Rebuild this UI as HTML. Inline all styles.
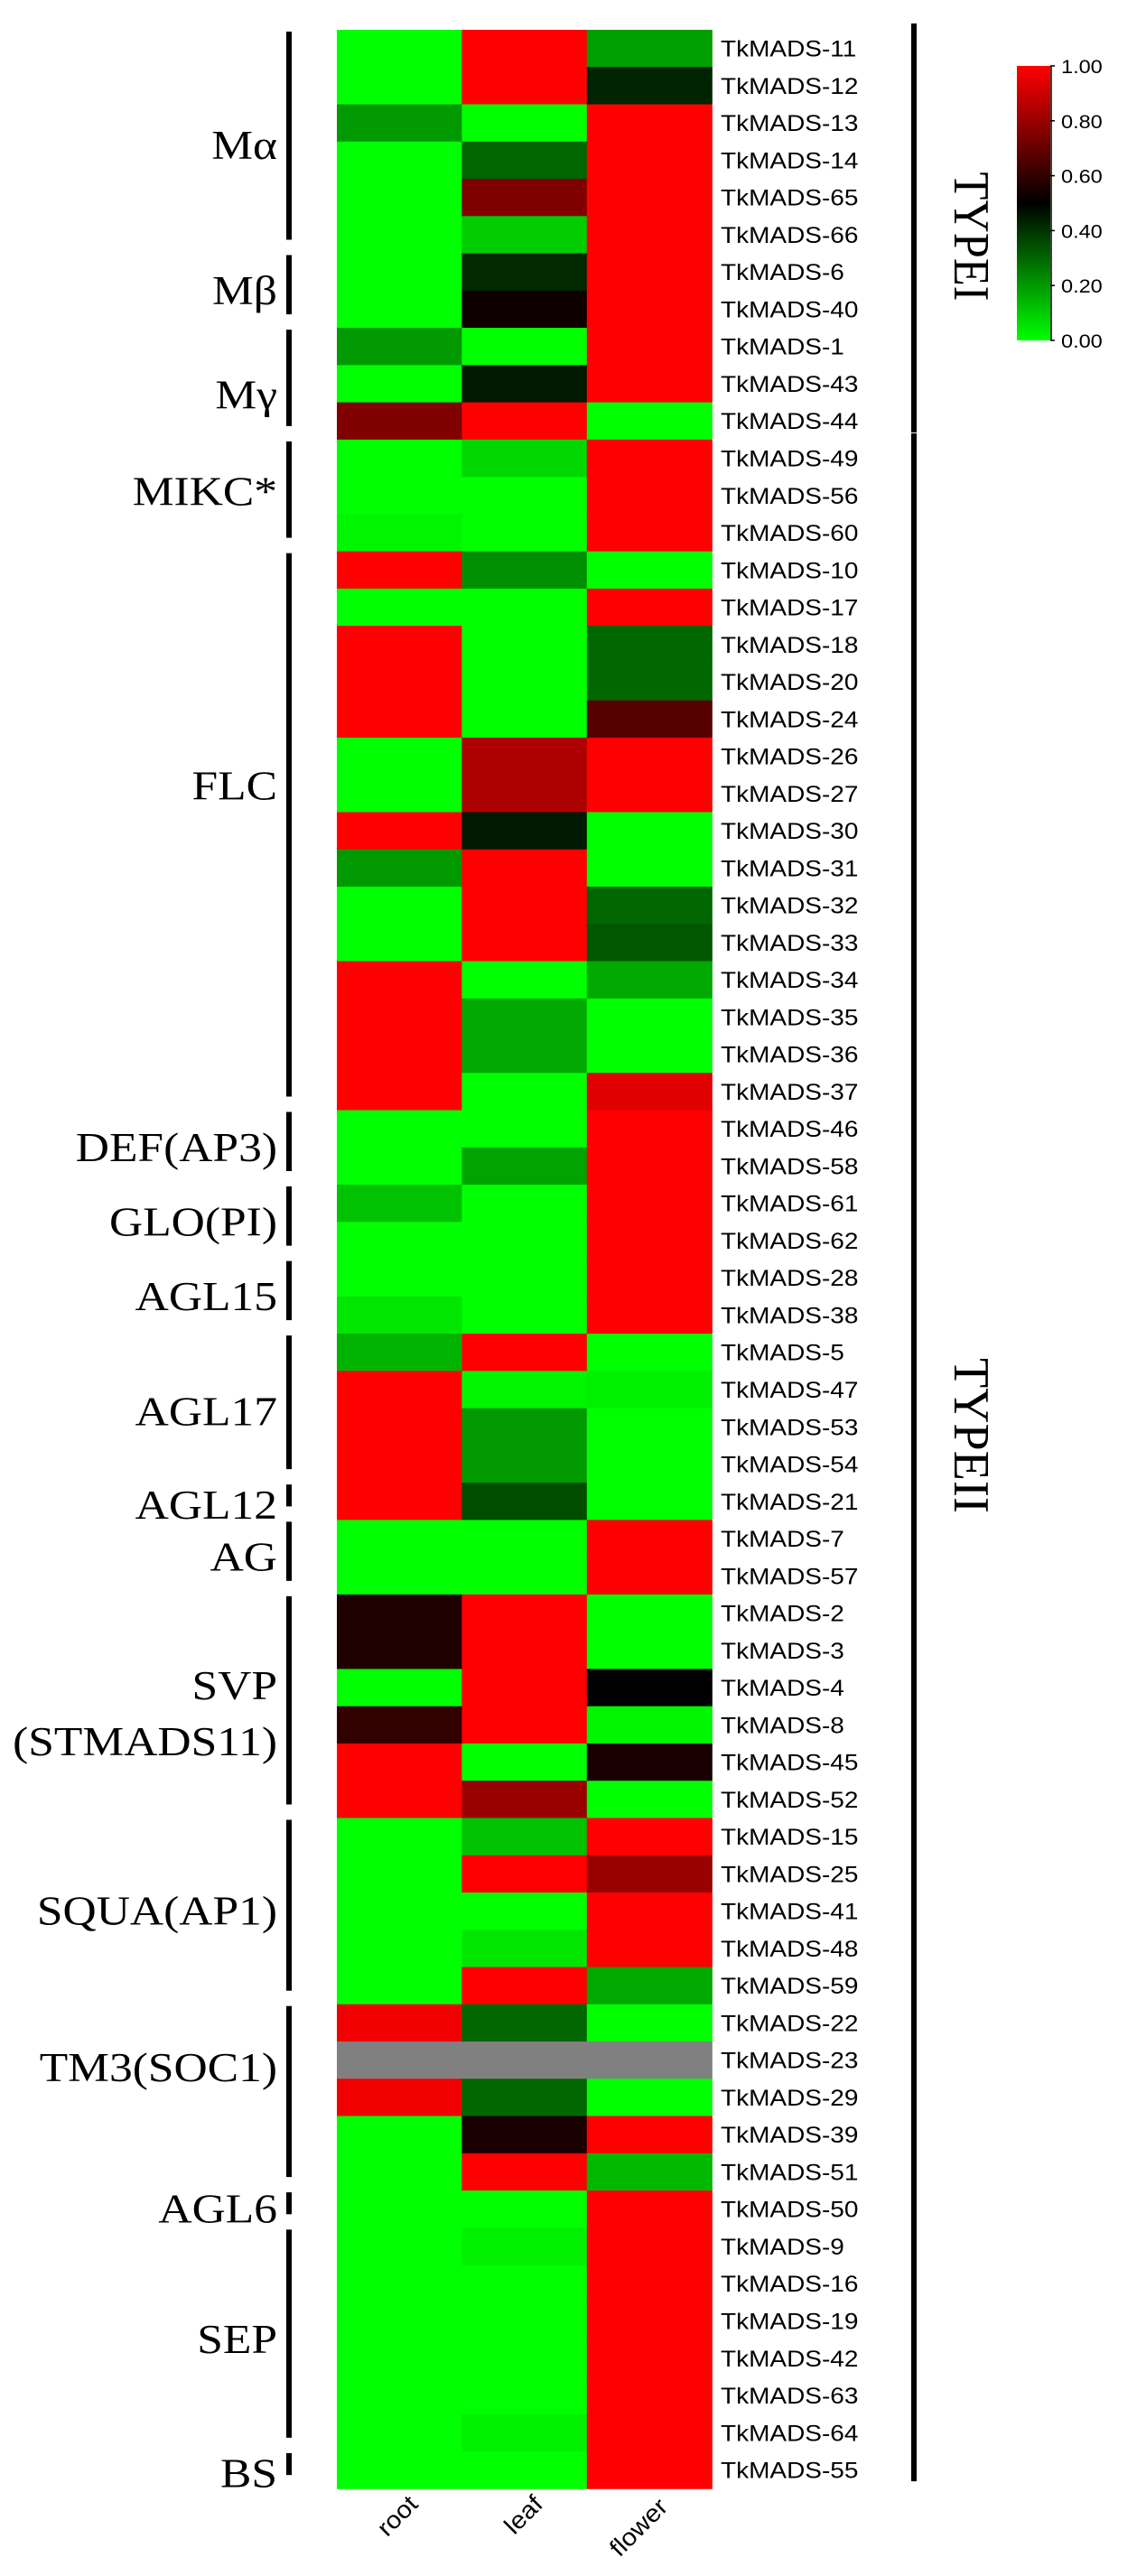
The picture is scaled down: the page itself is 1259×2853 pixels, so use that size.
<!DOCTYPE html>
<html><head><meta charset="utf-8"><style>
html,body{margin:0;padding:0;background:#fff;}
svg{display:block;}
</style></head><body>
<svg id="chart" width="1259" height="2853" viewBox="0 0 1259 2853" xmlns="http://www.w3.org/2000/svg"></svg>
<script>
const genes = ["TkMADS-11","TkMADS-12","TkMADS-13","TkMADS-14","TkMADS-65","TkMADS-66","TkMADS-6","TkMADS-40","TkMADS-1","TkMADS-43","TkMADS-44","TkMADS-49","TkMADS-56","TkMADS-60","TkMADS-10","TkMADS-17","TkMADS-18","TkMADS-20","TkMADS-24","TkMADS-26","TkMADS-27","TkMADS-30","TkMADS-31","TkMADS-32","TkMADS-33","TkMADS-34","TkMADS-35","TkMADS-36","TkMADS-37","TkMADS-46","TkMADS-58","TkMADS-61","TkMADS-62","TkMADS-28","TkMADS-38","TkMADS-5","TkMADS-47","TkMADS-53","TkMADS-54","TkMADS-21","TkMADS-7","TkMADS-57","TkMADS-2","TkMADS-3","TkMADS-4","TkMADS-8","TkMADS-45","TkMADS-52","TkMADS-15","TkMADS-25","TkMADS-41","TkMADS-48","TkMADS-59","TkMADS-22","TkMADS-23","TkMADS-29","TkMADS-39","TkMADS-51","TkMADS-50","TkMADS-9","TkMADS-16","TkMADS-19","TkMADS-42","TkMADS-63","TkMADS-64","TkMADS-55"];
const tissues = ["root","leaf","flower"];
const rootVals = [0,0,0.2,0,0,0,0,0,0.2,0,0.75,0,0,0.02,1,0,1,1,1,0,0,1,0.2,0,0,1,1,1,1,0,0,0.12,0,0,0.05,0.15,1,1,1,1,0,0,0.56,0.56,0,0.6,1,1,0,0,0,0,0,0.97,null,0.97,0,0,0,0,0,0,0,0,0,0];
const leafVals = [1,1,0,0.3,0.75,0.1,0.42,0.53,0,0.45,1,0.08,0,0,0.22,0,0,0,0,0.84,0.84,0.45,1,1,1,0,0.17,0.17,0,0,0.18,0,0,0,0,1,0.02,0.2,0.2,0.35,0,0,1,1,1,1,0,0.8,0.12,1,0,0.05,1,0.3,null,0.3,0.55,1,0,0.03,0,0,0,0,0.03,0];
const flowerVals = [0.19,0.43,1,1,1,1,1,1,1,1,0,1,1,1,0,1,0.3,0.3,0.67,1,1,0,0,0.3,0.33,0.17,0,0,0.94,1,1,1,1,1,1,0,0.03,0,0,0,1,1,0,0,0.5,0.02,0.55,0,1,0.8,1,1,0.17,0,null,0,1,0.14,1,1,1,1,1,1,1,1];
const groupNames = ["Mα","Mβ","Mγ","MIKC*","FLC","DEF(AP3)","GLO(PI)","AGL15","AGL17","AGL12","AG","SVP|(STMADS11)","SQUA(AP1)","TM3(SOC1)","AGL6","SEP","BS"];
const groupStart = [0,6,8,11,14,29,31,33,35,39,40,42,48,53,58,59,65];
const groupEnd =   [5,7,10,13,28,30,32,34,38,39,41,47,52,57,58,64,65];
const groupLabelRow = [2.6,6.5,9.3,11.9,19.8,29.5,31.5,33.5,36.6,39.1,40.5,44.7,50.0,54.2,58,61.5,65.1];
const typeNames = ["TYPEI","TYPEII"];
const typeStart = [0,11];
const typeEnd = [10,65];
const cbTicks = [0,0.2,0.4,0.6,0.8,1.0];
const cbTickLabels = ["0.00","0.20","0.40","0.60","0.80","1.00"];

const NS="http://www.w3.org/2000/svg";
const svg=document.getElementById('chart');
const X0=373, CW=138.4, Y0=33, RH=41.26;
const xPos=i=>X0+i*CW;
const yPos=r=>Y0+r*RH;
function color(v){
  if(v===null) return "#808080";
  if(v<0.5){const g=Math.round(255*(1-2*v));return `rgb(0,${g},0)`;}
  const r=Math.round(255*(2*v-1));return `rgb(${r},0,0)`;
}
function el(tag,attrs,parent){const e=document.createElementNS(NS,tag);for(const k in attrs)e.setAttribute(k,attrs[k]);(parent||svg).appendChild(e);return e;}
const series=[rootVals,leafVals,flowerVals];
const cells=el('g',{});


series.forEach((vals,c)=>{
  vals.forEach((v,r)=>{
    const rc=el('rect',{x:xPos(c),y:yPos(r),width:CW+0.6,height:RH+0.6,fill:color(v)},cells);
    
    
  });
});
genes.forEach((g,r)=>{
  const t=el('text',{x:0,y:0,transform:`translate(798,${yPos(r)+RH/2+9}) scale(1.12,1)`,'font-family':'"Liberation Sans", sans-serif','font-size':25,fill:'#000'});
  t.textContent=g;
  
  
});
tissues.forEach((n,i)=>{
  const ex=xPos(i)+CW/2+22;
  const t=el('text',{x:0,y:0,transform:`translate(${ex},${2775+(i===2?3:0)}) rotate(-45) scale(1.08,1)`,'text-anchor':'end','font-family':'"Liberation Sans", sans-serif','font-size':27,fill:'#000'});
  t.textContent=n;
  
  
});
groupNames.forEach((n,i)=>{
  const y1=yPos(groupStart[i])+2, y2=yPos(groupEnd[i]+1)-15;
  const l=el('line',{x1:320,x2:320,y1:y1,y2:y2,stroke:'#000','stroke-width':6});
  
  
  const cy=yPos(groupLabelRow[i])+RH/2;
  const parts=n.split('|');
  parts.forEach((p,k)=>{
    const yy=cy+15+(k-(parts.length-1)/2)*62;
    const t=el('text',{x:0,y:0,transform:`translate(307,${yy}) scale(1.12,1)`,'text-anchor':'end','font-family':'"Liberation Serif", serif','font-size':46,fill:'#000'});
    t.textContent=p;
    
    
  });
});
typeNames.forEach((n,i)=>{
  const y1=yPos(typeStart[i])-7, y2=yPos(typeEnd[i]+1)-8;
  const l=el('line',{x1:1012,x2:1012,y1:y1,y2:y2,stroke:'#000','stroke-width':6});
  
  
  const cy=(i===0)?262:1590;
  const len=(i===0)?143:172;
  const t=el('text',{x:0,y:0,transform:`translate(1057,${cy}) rotate(90)`,'text-anchor':'middle','font-family':'"Liberation Serif", serif','font-size':56,textLength:len,lengthAdjust:'spacingAndGlyphs',fill:'#000'});
  t.textContent=n;
  
  
});
const defs=el('defs',{});
const grad=el('linearGradient',{id:'cbg',x1:0,y1:1,x2:0,y2:0},defs);
el('stop',{offset:'0',  'stop-color':'#00ff00'},grad);
el('stop',{offset:'0.5','stop-color':'#000000'},grad);
el('stop',{offset:'1',  'stop-color':'#ff0000'},grad);
const CBT=73, CBB=377;
const cbY=v=>CBB-(CBB-CBT)*v;
const cb=el('rect',{x:1126,y:CBT,width:37,height:CBB-CBT,fill:'url(#cbg)'});


el('line',{x1:1164,x2:1164,y1:CBT,y2:CBB,stroke:'#000','stroke-width':1.5});
cbTicks.forEach((v,i)=>{
  el('line',{x1:1163,x2:1168,y1:cbY(v),y2:cbY(v),stroke:'#000','stroke-width':1.5});
  const t=el('text',{x:0,y:0,transform:`translate(1175,${cbY(v)+8}) scale(1.12,1)`,'font-family':'"Liberation Sans", sans-serif','font-size':21,fill:'#000'});
  t.textContent=cbTickLabels[i];
  
  
});
</script>
</body></html>
